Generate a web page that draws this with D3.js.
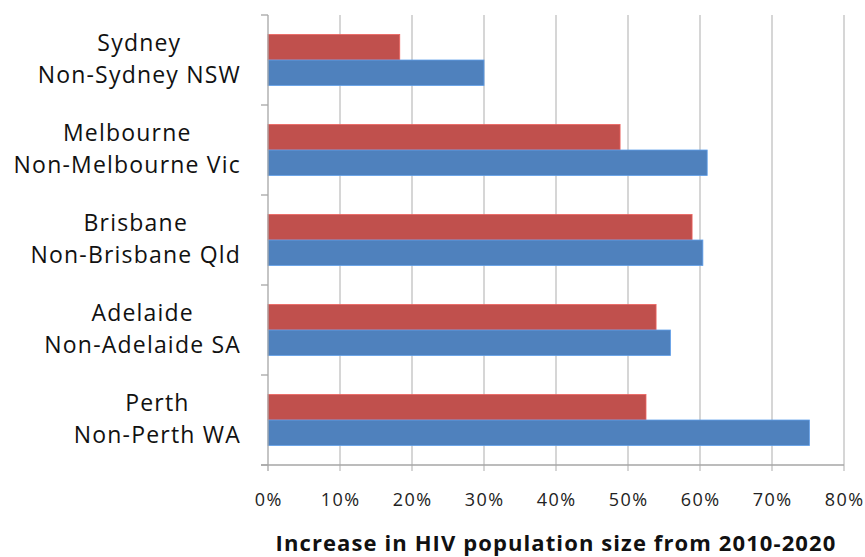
<!DOCTYPE html>
<html>
<head>
<meta charset="utf-8">
<script src="https://cdn.jsdelivr.net/npm/d3@7"></script>
<style>
  body { margin: 0; background: #fff; }
  svg { font-family: "Open Sans", Lato, sans-serif; }
</style>
</head>
<body>
<svg width="865" height="557"></svg>
<script>
// category labels (two lines each) and values
var cities = ["Sydney", "Melbourne", "Brisbane", "Adelaide", "Perth"];
var regions = ["Non-Sydney NSW", "Non-Melbourne Vic", "Non-Brisbane Qld", "Non-Adelaide SA", "Non-Perth WA"];
var cityValues = [0.183, 0.489, 0.589, 0.539, 0.525];
var regionValues = [0.300, 0.610, 0.604, 0.559, 0.752];
var xTicks = [0, 0.1, 0.2, 0.3, 0.4, 0.5, 0.6, 0.7, 0.8];
var xTitle = "Increase in HIV population size from 2010-2020";

var svg = d3.select("svg");
var margin = { left: 268, right: 21, top: 15, bottom: 92 };
var width = 865 - margin.left - margin.right;
var height = 557 - margin.top - margin.bottom;

var g = svg.append("g")
    .attr("transform", "translate(" + margin.left + "," + margin.top + ")");

var x = d3.scaleLinear().domain([0, 0.8]).range([0, width]);
var y = d3.scaleBand().domain(cities).range([0, height]).paddingInner(0).paddingOuter(0);
var inner = d3.scaleBand().domain(["city", "region"]).range([0, y.bandwidth()]).paddingOuter(0.38 * 2).paddingInner(0);

// gridlines
g.append("g")
    .selectAll("line")
    .data(xTicks.slice(1))
    .join("line")
    .attr("x1", d => x(d)).attr("x2", d => x(d))
    .attr("y1", 0).attr("y2", height + 6)
    .attr("stroke", "#c0c0c0")
    .attr("stroke-width", 1.3);

// bars
var rows = cities.map((c, i) => ({ city: c, region: regions[i], vals: [
    { key: "city", v: cityValues[i], color: "#c0504d" },
    { key: "region", v: regionValues[i], color: "#4f81bd" }] }));

var grp = g.selectAll("g.cat")
    .data(rows)
    .join("g")
    .attr("class", "cat")
    .attr("transform", d => "translate(0," + y(d.city) + ")");

grp.selectAll("rect")
    .data(d => d.vals)
    .join("rect")
    .attr("x", 0)
    .attr("y", d => inner(d.key))
    .attr("width", d => x(d.v))
    .attr("height", inner.bandwidth())
    .attr("fill", d => d.color)
    .attr("stroke", d => d3.color(d.color).brighter(0.6))
    .attr("stroke-width", 0.8);

// y axis line and ticks
g.append("line")
    .attr("x1", 0).attr("x2", 0)
    .attr("y1", 0).attr("y2", height)
    .attr("stroke", "#a6a6a6").attr("stroke-width", 1.3);
g.append("g")
    .selectAll("line")
    .data(d3.range(cities.length + 1))
    .join("line")
    .attr("x1", -7).attr("x2", 0)
    .attr("y1", d => d * y.step()).attr("y2", d => d * y.step())
    .attr("stroke", "#a6a6a6").attr("stroke-width", 1.3);

// x axis line and ticks
g.append("line")
    .attr("x1", -7).attr("x2", width)
    .attr("y1", height).attr("y2", height)
    .attr("stroke", "#a6a6a6").attr("stroke-width", 1.3);
g.append("line")
    .attr("x1", 0).attr("x2", 0)
    .attr("y1", height).attr("y2", height + 6)
    .attr("stroke", "#a6a6a6").attr("stroke-width", 1.3);

// tick labels
g.append("g")
    .selectAll("text")
    .data(xTicks)
    .join("text")
    .attr("x", d => x(d) + 0.7)
    .attr("y", height + 41)
    .attr("text-anchor", "middle")
    .attr("font-size", 18)
    .attr("letter-spacing", 1.4)
    .attr("fill", "#222")
    .text(d3.format(".0%"));

// category labels: each line centred on the widest line, block against the axis
grp.each(function (d) {
    var sel = d3.select(this);
    var lines = [d.city, d.region];
    var texts = lines.map((t, j) => sel.append("text")
        .attr("y", y.bandwidth() / 2 + (j === 0 ? -9 : 23))
        .attr("font-size", 23)
        .attr("letter-spacing", 1.2)
        .attr("fill", "#111")
        .attr("text-anchor", "middle")
        .text(t));
    var w = d3.max(texts, t => t.node().getComputedTextLength());
    texts.forEach(t => t.attr("x", -27 - w / 2));
});

// axis title
svg.append("text")
    .attr("x", margin.left + width / 2)
    .attr("y", 551)
    .attr("text-anchor", "middle")
    .attr("font-size", 22)
    .attr("letter-spacing", 1.1)
    .attr("font-weight", "bold")
    .attr("fill", "#111")
    .text(xTitle);
</script>
</body>
</html>
